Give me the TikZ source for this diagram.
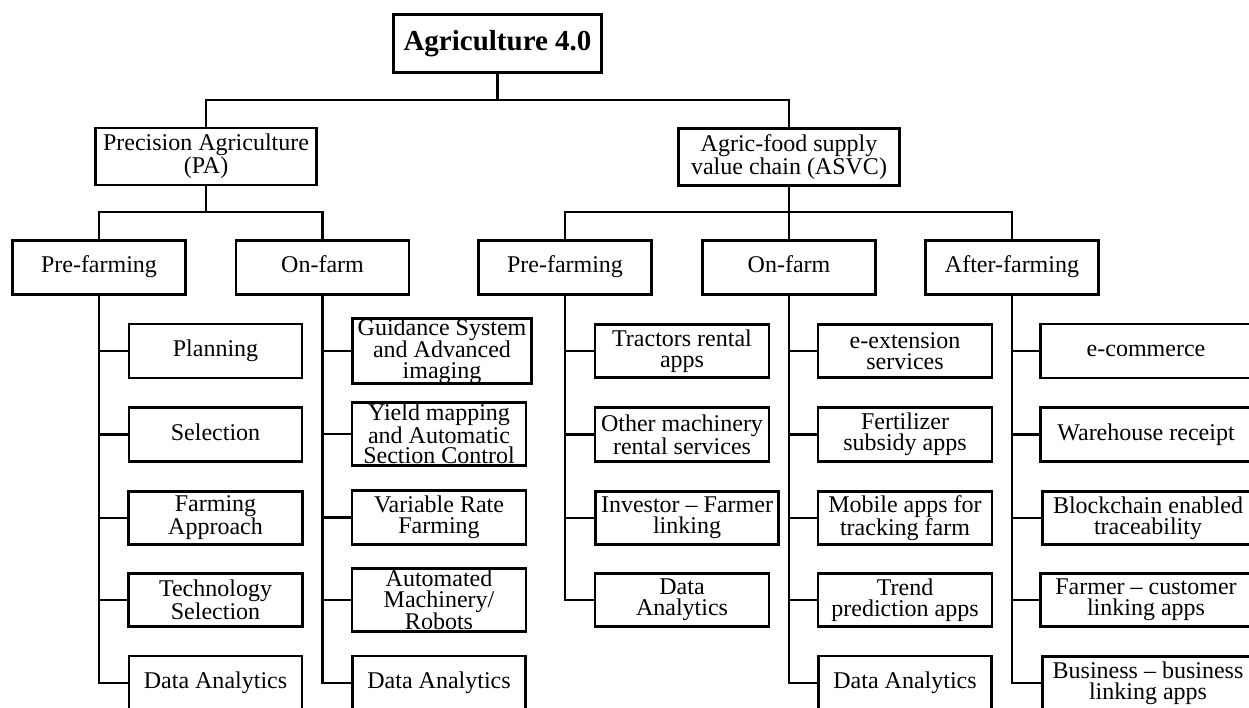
\documentclass[tikz,border=0pt]{standalone}
\usepackage{fontspec}
\setmainfont{Liberation Serif}
\begin{document}
\begin{tikzpicture}[x=1pt,y=-1pt,
  box/.style={draw, line width=2.6pt, inner sep=0pt, align=center,
    font=\fontsize{24}{21}\selectfont, minimum width=173pt, minimum height=54pt},
  onebox/.style={box, text height=16pt, text depth=5pt},
  rowbox/.style={box, minimum width=174pt, minimum height=53.5pt},
  tallbox/.style={box, font=\fontsize{24}{20.5}\selectfont, minimum width=174pt, minimum height=63pt},
  link/.style={line width=2.6pt}]
\useasboundingbox (0,0) rectangle (1249,708);
\clip (0,0) rectangle (1249,708);

% top levels
\node[box, font=\bfseries\fontsize{29}{32}\selectfont, minimum width=208pt, minimum height=58pt] (top) at (497.5,43.5) {Agriculture 4.0};
\node[box, minimum width=221pt, minimum height=57pt] (pa) at (206,156.5) {Precision Agriculture\\(PA)};
\node[box, minimum width=221pt, minimum height=57pt] (asvc) at (789,157) {Agric-food supply\\value chain (ASVC)};

% level 2
\node[onebox] (papre) at (99,267.5) {Pre-farming};
\node[onebox] (paon) at (322.5,267.5) {On-farm};
\node[onebox] (aspre) at (565,267.5) {Pre-farming};
\node[onebox] (ason) at (789,267.5) {On-farm};
\node[onebox] (asafter) at (1012,267.5) {After-farming};

% column A
\node[rowbox, onebox] (a1) at (215.5,351) {Planning};
\node[rowbox, onebox] (a2) at (215.5,434.5) {Selection};
\node[rowbox] (a3) at (215.5,518) {Farming\\Approach};
\node[rowbox] (a4) at (215.5,600) {Technology\\Selection};
\node[rowbox, onebox] (a5) at (215.5,683) {Data Analytics};

% column B
\node[tallbox, minimum width=179pt] (b1) at (442,351) {Guidance System\\and Advanced\\imaging};
\node[tallbox] (b2) at (439,434) {Yield mapping\\and Automatic\\Section Control};
\node[rowbox, minimum height=54.5pt] (b3) at (439,517.5) {Variable Rate\\Farming};
\node[tallbox] (b4) at (439,600) {Automated\\Machinery/\\Robots};
\node[rowbox, onebox] (b5) at (439,683) {Data Analytics};

% column C
\node[rowbox] (c1) at (682,351) {Tractors rental\\apps};
\node[rowbox] (c2) at (682,434.5) {Other machinery\\rental services};
\node[rowbox, minimum width=183pt] (c3) at (687,518) {Investor -- Farmer\\linking};
\node[rowbox] (c4) at (682,600) {Data\\Analytics};

% column D
\node[rowbox] (d1) at (905,351) {e-extension\\services};
\node[rowbox] (d2) at (905,434.5) {Fertilizer\\subsidy apps};
\node[rowbox] (d3) at (905,518) {Mobile apps for\\tracking farm};
\node[rowbox] (d4) at (905,600) {Trend\\prediction apps};
\node[rowbox, onebox] (d5) at (905,683) {Data Analytics};

% column E
\node[rowbox, onebox, minimum width=211pt] (e1) at (1146,351) {e-commerce};
\node[rowbox, onebox, minimum width=211pt] (e2) at (1146,434.5) {Warehouse receipt};
\node[rowbox, minimum width=211pt] (e3) at (1148,518) {Blockchain enabled\\traceability};
\node[rowbox, minimum width=211pt] (e4) at (1146,600) {Farmer -- customer\\linking apps};
\node[rowbox, minimum width=211pt] (e5) at (1148,683) {Business -- business\\linking apps};

% connectors
\coordinate (bus) at (497.5,100);
\coordinate (pabus) at (206,212);
\coordinate (asbus) at (789,212);
\draw[link] (top.south) -- (bus);
\draw[link] (pa.north) |- (bus) -| (asvc.north);
\draw[link] (pa.south) -- (pabus);
\draw[link] (papre.north) |- (pabus) -| (paon.north);
\draw[link] (asvc.south) -- (ason.north);
\draw[link] (aspre.north) |- (asbus) -| (asafter.north);

\foreach \c in {a1,a2,a3,a4,a5} \draw[link] (papre.south) |- (\c.west);
\foreach \c in {b1,b2,b3,b4,b5} \draw[link] (paon.south) |- (\c.west);
\foreach \c in {c1,c2,c3,c4} \draw[link] (aspre.south) |- (\c.west);
\foreach \c in {d1,d2,d3,d4,d5} \draw[link] (ason.south) |- (\c.west);
\foreach \c in {e1,e2,e3,e4,e5} \draw[link] (asafter.south) |- (\c.west);
\end{tikzpicture}
\end{document}
